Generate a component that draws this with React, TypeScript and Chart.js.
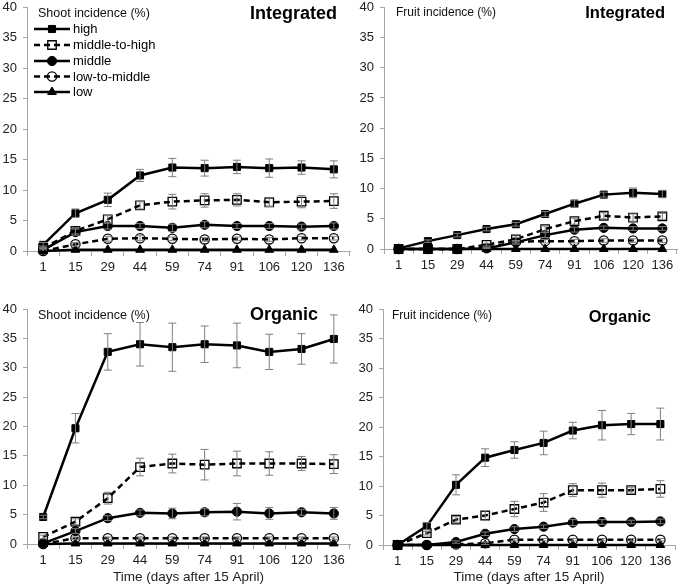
import React, { useEffect, useRef } from "react";
import { Chart, registerables } from "chart.js";
import { drawPoint } from "chart.js/helpers";

Chart.register(...registerables);

// ---------- data ----------
const days = ["1", "15", "29", "44", "59", "74", "91", "106", "120", "136"];
const seriesNames = ["high", "middle-to-high", "middle", "low-to-middle", "low"];
const yMin = 0;
const yMax = 40;
const yStep = 5;
const xAxisTitle = "Time (days after 15 April)";
const shootLabel = "Shoot incidence (%)";
const fruitLabel = "Fruit incidence (%)";
const integratedTitle = "Integrated";
const organicTitle = "Organic";

// Shoot – Integrated
const shootIntHigh = [1.0, 6.2, 8.4, 12.4, 13.7, 13.6, 13.8, 13.6, 13.7, 13.4];
const shootIntHighErr = [0.4, 0.7, 1.1, 1.0, 1.5, 1.3, 1.1, 1.5, 1.1, 1.4];
const shootIntMidHigh = [0.5, 3.3, 5.2, 7.5, 8.1, 8.3, 8.4, 8.0, 8.1, 8.2];
const shootIntMidHighErr = [0.3, 0.5, 0.6, 0.6, 1.2, 1.1, 1.0, 0.7, 1.0, 1.2];
const shootIntMid = [0.2, 3.1, 4.1, 4.1, 3.8, 4.3, 4.1, 4.1, 4.0, 4.1];
const shootIntMidErr = [0.2, 0.5, 0.5, 0.4, 0.6, 0.5, 0.4, 0.4, 0.4, 0.5];
const shootIntLowMid = [0, 1.1, 2.0, 2.1, 2.0, 1.9, 2.0, 1.9, 2.1, 2.1];
const shootIntLowMidErr = [0, 0.3, 0.4, 0.4, 0.3, 0.3, 0.3, 0.3, 0.3, 0.3];
const shootIntLow = [0, 0.2, 0.2, 0.2, 0.2, 0.2, 0.2, 0.2, 0.2, 0.2];
const shootIntLowErr = [0, 0, 0, 0, 0, 0, 0, 0, 0, 0];

// Fruit – Integrated
const fruitIntHigh = [0.1, 1.3, 2.3, 3.3, 4.1, 5.8, 7.5, 9.0, 9.3, 9.1];
const fruitIntHighErr = [0, 0.2, 0.3, 0.3, 0.3, 0.4, 0.6, 0.4, 0.8, 0.6];
const fruitIntMidHigh = [0, 0, 0, 0.7, 1.6, 3.3, 4.6, 5.5, 5.2, 5.4];
const fruitIntMidHighErr = [0, 0, 0, 0.2, 0.3, 0.5, 0.5, 0.5, 0.6, 0.5];
const fruitIntMid = [0, 0, 0, 0.1, 1.1, 2.3, 3.2, 3.5, 3.4, 3.4];
const fruitIntMidErr = [0, 0, 0, 0.1, 0.3, 0.4, 0.4, 0.3, 0.3, 0.3];
const fruitIntLowMid = [0, 0, 0, 0.2, 1.2, 1.3, 1.3, 1.4, 1.4, 1.4];
const fruitIntLowMidErr = [0, 0, 0, 0.1, 0.2, 0.3, 0.3, 0.3, 0.3, 0.3];
const fruitIntLow = [0, 0, 0, 0, 0, 0, 0, 0, 0, 0];
const fruitIntLowErr = [0, 0, 0, 0, 0, 0, 0, 0, 0, 0];

// Shoot – Organic
const shootOrgHigh = [4.6, 19.7, 32.7, 34.0, 33.5, 34.0, 33.8, 32.7, 33.2, 34.9];
const shootOrgHighErr = [0.3, 2.5, 3.1, 3.7, 4.1, 3.1, 3.8, 3.0, 2.6, 4.1];
const shootOrgMidHigh = [1.2, 3.8, 7.8, 13.1, 13.7, 13.5, 13.7, 13.7, 13.7, 13.6];
const shootOrgMidHighErr = [0.3, 0.5, 1.0, 1.5, 1.6, 2.6, 2.1, 2.0, 1.2, 1.6];
const shootOrgMid = [0.1, 2.2, 4.4, 5.3, 5.2, 5.4, 5.5, 5.2, 5.4, 5.2];
const shootOrgMidErr = [0, 0.4, 0.4, 0.5, 0.9, 0.6, 1.4, 1.0, 0.5, 1.0];
const shootOrgLowMid = [0, 1.0, 1.0, 1.0, 1.0, 1.0, 1.0, 1.0, 1.0, 1.0];
const shootOrgLowMidErr = [0, 0.2, 0.2, 0.2, 0.2, 0.2, 0.2, 0.2, 0.2, 0.2];
const shootOrgLow = [0, 0.1, 0.1, 0.1, 0.1, 0.1, 0.1, 0.1, 0.1, 0.1];
const shootOrgLowErr = [0, 0, 0, 0, 0, 0, 0, 0, 0, 0];

// Fruit – Organic
const fruitOrgHigh = [0, 3.2, 10.2, 14.8, 16.1, 17.3, 19.4, 20.3, 20.5, 20.5];
const fruitOrgHighErr = [0, 0.6, 1.7, 1.5, 1.4, 2.0, 1.4, 2.5, 1.8, 2.7];
const fruitOrgMidHigh = [0, 2.0, 4.3, 5.0, 6.1, 7.2, 9.3, 9.3, 9.3, 9.5];
const fruitOrgMidHighErr = [0, 0.3, 0.5, 0.8, 1.3, 1.5, 1.1, 1.2, 0.5, 1.4];
const fruitOrgMid = [0, 0, 0.5, 1.9, 2.7, 3.1, 3.8, 3.9, 3.9, 4.0];
const fruitOrgMidErr = [0, 0, 0.2, 0.3, 0.4, 0.3, 0.5, 0.4, 0.3, 0.4];
const fruitOrgLowMid = [0, 0, 0.1, 0.3, 0.9, 0.9, 0.9, 0.9, 0.9, 0.9];
const fruitOrgLowMidErr = [0, 0, 0, 0.2, 0.2, 0.2, 0.2, 0.2, 0.2, 0.2];
const fruitOrgLow = [0, 0, 0, 0, 0, 0, 0, 0, 0, 0];
const fruitOrgLowErr = [0, 0, 0, 0, 0, 0, 0, 0, 0, 0];

// ---------- styles / layout ----------
const W = 685;
const H = 588;
const FONT = "'Liberation Sans', Arial, sans-serif";
const AXIS_GRAY = "#a6a6a6";
const ERR_GRAY = "#7f7f7f";

const seriesStyles = [
  { dash: [] as number[], pointStyle: "rect", fill: "#000", radius: 5 },
  { dash: [6, 4], pointStyle: "rect", fill: "rgba(255,255,255,0)", radius: 6 },
  { dash: [] as number[], pointStyle: "circle", fill: "#000", radius: 4.6 },
  { dash: [6, 4], pointStyle: "circle", fill: "rgba(255,255,255,0)", radius: 4.6 },
  { dash: [] as number[], pointStyle: "triangle", fill: "#000", radius: 5 },
];

const panels = [
  {
    values: [shootIntHigh, shootIntMidHigh, shootIntMid, shootIntLowMid, shootIntLow],
    errors: [shootIntHighErr, shootIntMidHighErr, shootIntMidErr, shootIntLowMidErr, shootIntLowErr],
    label: shootLabel, title: integratedTitle, legend: true, xTitle: false,
    area: { left: 27, right: 350, top: 6.5, bottom: 251 }, yW: 27, xH: 30,
    labelPos: { x: 38, y: 13.5, size: 12.5 }, titlePos: { x: 337, y: 14, size: 18 },
  },
  {
    values: [fruitIntHigh, fruitIntMidHigh, fruitIntMid, fruitIntLowMid, fruitIntLow],
    errors: [fruitIntHighErr, fruitIntMidHighErr, fruitIntMidErr, fruitIntLowMidErr, fruitIntLowErr],
    label: fruitLabel, title: integratedTitle, legend: false, xTitle: false,
    area: { left: 384, right: 677, top: 6, bottom: 249 }, yW: 41, xH: 30,
    labelPos: { x: 396, y: 13, size: 12 }, titlePos: { x: 665, y: 13.5, size: 16.5 },
  },
  {
    values: [shootOrgHigh, shootOrgMidHigh, shootOrgMid, shootOrgLowMid, shootOrgLow],
    errors: [shootOrgHighErr, shootOrgMidHighErr, shootOrgMidErr, shootOrgLowMidErr, shootOrgLowErr],
    label: shootLabel, title: organicTitle, legend: false, xTitle: true,
    area: { left: 27, right: 350, top: 309, bottom: 544 }, yW: 27, xH: 42,
    labelPos: { x: 38, y: 315.5, size: 12.5 }, titlePos: { x: 318, y: 315, size: 18 },
  },
  {
    values: [fruitOrgHigh, fruitOrgMidHigh, fruitOrgMid, fruitOrgLowMid, fruitOrgLow],
    errors: [fruitOrgHighErr, fruitOrgMidHighErr, fruitOrgMidErr, fruitOrgLowMidErr, fruitOrgLowErr],
    label: fruitLabel, title: organicTitle, legend: false, xTitle: true,
    area: { left: 383, right: 675, top: 309, bottom: 545 }, yW: 40, xH: 41,
    labelPos: { x: 392, y: 315.5, size: 12 }, titlePos: { x: 651, y: 317, size: 16.5 },
  },
];

// ---------- plugins ----------
const errorBarPlugin = {
  id: "errorBars",
  afterDatasetsDraw(chart: any, _args: any, opts: any) {
    const errs: number[][] = opts.errors || [];
    const yScale = chart.scales.y;
    const ctx = chart.ctx;
    ctx.save();
    ctx.strokeStyle = ERR_GRAY;
    ctx.lineWidth = 1;
    ctx.setLineDash([]);
    chart.data.datasets.forEach((ds: any, i: number) => {
      const meta = chart.getDatasetMeta(i);
      const e = errs[i] || [];
      meta.data.forEach((pt: any, j: number) => {
        const err = e[j];
        if (!err) return;
        const v = ds.data[j];
        const yt = yScale.getPixelForValue(v + err);
        const yb = yScale.getPixelForValue(Math.max(v - err, yMin));
        const x = pt.x;
        ctx.beginPath();
        ctx.moveTo(x, yt);
        ctx.lineTo(x, yb);
        ctx.moveTo(x - 4, yt);
        ctx.lineTo(x + 4, yt);
        if (v - err > yMin) {
          ctx.moveTo(x - 4, yb);
          ctx.lineTo(x + 4, yb);
        }
        ctx.stroke();
      });
    });
    ctx.restore();
  },
};

const decoPlugin = {
  id: "deco",
  afterDraw(chart: any, _args: any, opts: any) {
    const ctx = chart.ctx;
    ctx.save();
    ctx.fillStyle = "#111";
    ctx.textBaseline = "middle";
    ctx.textAlign = "left";
    ctx.font = `${opts.labelPos.size}px ${FONT}`;
    ctx.fillText(opts.label, opts.labelPos.x, opts.labelPos.y);
    ctx.fillStyle = "#000";
    ctx.textAlign = "right";
    ctx.font = `bold ${opts.titlePos.size}px ${FONT}`;
    ctx.fillText(opts.title, opts.titlePos.x, opts.titlePos.y);
    if (opts.legend) {
      const rows = [29, 45, 61, 76.5, 92];
      chart.data.datasets.forEach((ds: any, i: number) => {
        const y = rows[i];
        ctx.strokeStyle = "#000";
        ctx.lineWidth = 2.5;
        ctx.setLineDash(ds.borderDash || []);
        ctx.beginPath();
        ctx.moveTo(34, y);
        ctx.lineTo(70, y);
        ctx.stroke();
        ctx.setLineDash([]);
        ctx.fillStyle = ds.pointBackgroundColor;
        ctx.strokeStyle = "#000";
        ctx.lineWidth = ds.pointBorderWidth;
        drawPoint(ctx, { pointStyle: ds.pointStyle, radius: ds.pointRadius, rotation: 0, borderWidth: ds.pointBorderWidth }, 52, y);
        ctx.fillStyle = "#000";
        ctx.textAlign = "left";
        ctx.textBaseline = "middle";
        ctx.font = `13px ${FONT}`;
        ctx.fillText(ds.label, 73, y + 0.5);
      });
    }
    ctx.restore();
  },
};

function Panel({ cfg }: { cfg: any }) {
  const ref = useRef<HTMLCanvasElement | null>(null);
  useEffect(() => {
    if (!ref.current) return;
    const a = cfg.area;
    const datasets = seriesNames.map((name, i) => {
      const s = seriesStyles[i];
      return {
        label: name,
        data: cfg.values[i],
        borderColor: "#000",
        borderWidth: 2.5,
        borderDash: s.dash,
        pointStyle: s.pointStyle,
        pointRadius: s.radius,
        pointBackgroundColor: s.fill,
        pointBorderColor: "#000",
        pointBorderWidth: s.fill === "#000" ? 1 : 1.3,
        tension: 0,
        fill: false,
        clip: false,
      };
    });
    const chart = new Chart(ref.current, {
      type: "line",
      data: { labels: days, datasets },
      options: {
        animation: false,
        responsive: false,
        events: [],
        layout: {
          padding: {
            left: a.left - cfg.yW,
            right: W - a.right,
            top: a.top,
            bottom: H - a.bottom - cfg.xH,
          },
        },
        plugins: {
          legend: { display: false },
          tooltip: { enabled: false },
          errorBars: { errors: cfg.errors },
          deco: {
            label: cfg.label,
            title: cfg.title,
            legend: cfg.legend,
            labelPos: cfg.labelPos,
            titlePos: cfg.titlePos,
          },
        } as any,
        scales: {
          x: {
            type: "category",
            offset: true,
            grid: { offset: true, drawOnChartArea: false, tickLength: 5, color: AXIS_GRAY },
            border: { color: AXIS_GRAY, width: 1 },
            ticks: { padding: 4, maxRotation: 0, autoSkip: false, color: "#222", font: { family: FONT, size: 13 } },
            title: {
              display: cfg.xTitle,
              text: xAxisTitle,
              color: "#222",
              font: { family: FONT, size: 13.5 },
              padding: { top: 0, bottom: 1 },
            },
            afterFit: (s: any) => {
              s.height = cfg.xH;
              s.paddingLeft = 0;
              s.paddingRight = 0;
            },
          },
          y: {
            min: yMin,
            max: yMax,
            grid: { drawOnChartArea: false, tickLength: 4, color: AXIS_GRAY },
            border: { color: AXIS_GRAY, width: 1 },
            ticks: { stepSize: yStep, padding: 6, color: "#222", font: { family: FONT, size: 13 } },
            afterFit: (s: any) => {
              s.width = cfg.yW;
              s.paddingTop = 0;
              s.paddingBottom = 0;
            },
          },
        },
      } as any,
      plugins: [errorBarPlugin, decoPlugin],
    });
    return () => chart.destroy();
  }, [cfg]);
  return (
    <canvas
      ref={ref}
      width={W}
      height={H}
      style={{ position: "absolute", left: 0, top: 0, width: W, height: H }}
    />
  );
}

export default function App() {
  return (
    <div style={{ position: "absolute", left: 0, top: 0, width: W, height: H, background: "#fff" }}>
      {panels.map((p, i) => (
        <Panel key={i} cfg={p} />
      ))}
    </div>
  );
}
